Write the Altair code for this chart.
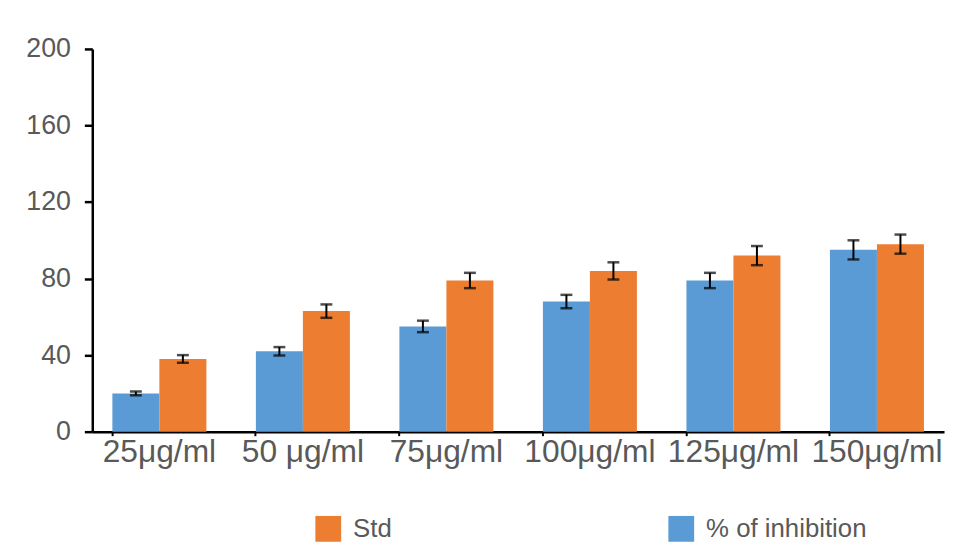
import altair as alt
import pandas as pd

categories = ["25μg/ml", "50 μg/ml", "75μg/ml", "100μg/ml", "125μg/ml", "150μg/ml"]
inhibition = [20, 42, 55, 68, 79, 95]
inhibition_err = [1, 2.2, 3, 3.5, 4, 5]
std = [38, 63, 79, 84, 92, 98]
std_err = [2, 3.5, 4, 4.5, 5, 5]
series = ["Std", "% of inhibition"]
colors = ["#ED7D31", "#5B9BD5"]

rows = []
for i, c in enumerate(categories):
    rows.append({"cat": c, "series": "% of inhibition", "value": inhibition[i],
                 "lo": inhibition[i] - inhibition_err[i], "hi": inhibition[i] + inhibition_err[i]})
    rows.append({"cat": c, "series": "Std", "value": std[i],
                 "lo": std[i] - std_err[i], "hi": std[i] + std_err[i]})
df = pd.DataFrame(rows)

x = alt.X("cat:N", sort=categories, title=None,
          scale=alt.Scale(paddingInner=0.345, paddingOuter=0.14),
          axis=alt.Axis(labelAngle=0, labelFontSize=32, labelColor="#595959",
                        labelFont="Liberation Sans", labelPadding=1, grid=False,
                        domainColor="black", domainWidth=2.5,
                        tickColor="black", tickSize=4, tickWidth=2, bandPosition=0,
                        labelOverlap=False, labelLimit=0))
xo = alt.XOffset("series:N", sort=["% of inhibition", "Std"],
                 scale=alt.Scale(paddingInner=0, paddingOuter=0))
yscale = alt.Scale(domain=[0, 200])

bars = alt.Chart(df).mark_bar().encode(
    x=x,
    xOffset=xo,
    y=alt.Y("value:Q", scale=yscale, title=None,
            axis=alt.Axis(values=[0, 40, 80, 120, 160, 200], grid=False,
                          labelFontSize=27, labelColor="#595959", labelFont="Liberation Sans",
                          labelPadding=14, domainColor="black", domainWidth=2.5,
                          tickColor="black", tickSize=8, tickWidth=2.5)),
    color=alt.Color("series:N", scale=alt.Scale(domain=series, range=colors),
                    title=None,
                    legend=alt.Legend(orient="none", legendX=225, legendY=471,
                                      direction="horizontal", symbolType="square",
                                      symbolSize=676, symbolStrokeWidth=0,
                                      symbolOpacity=1, labelLimit=0,
                                      labelFontSize=26, labelColor="#595959",
                                      labelFont="Liberation Sans", labelOffset=12,
                                      columnPadding=278, padding=0)),
)

rules = alt.Chart(df).mark_rule(color="black", strokeWidth=2).encode(
    x=alt.X("cat:N", sort=categories),
    xOffset=xo,
    y=alt.Y("lo:Q", scale=yscale),
    y2="hi:Q",
)
caps_lo = alt.Chart(df).mark_tick(color="black", size=12, thickness=2.5, orient="horizontal").encode(
    x=alt.X("cat:N", sort=categories),
    xOffset=xo,
    y=alt.Y("lo:Q", scale=yscale),
)
caps_hi = alt.Chart(df).mark_tick(color="black", size=12, thickness=2.5, orient="horizontal").encode(
    x=alt.X("cat:N", sort=categories),
    xOffset=xo,
    y=alt.Y("hi:Q", scale=yscale),
)

chart = alt.layer(bars, rules, caps_lo, caps_hi).properties(
    width=859, height=386,
    background="white",
    autosize=alt.AutoSizeParams(type="none"),
    padding={"left": 85, "top": 39, "right": 4, "bottom": 111},
).configure_view(strokeWidth=0, stroke="transparent")

chart.save("out.html", embed_options={"renderer": "svg", "actions": False})
